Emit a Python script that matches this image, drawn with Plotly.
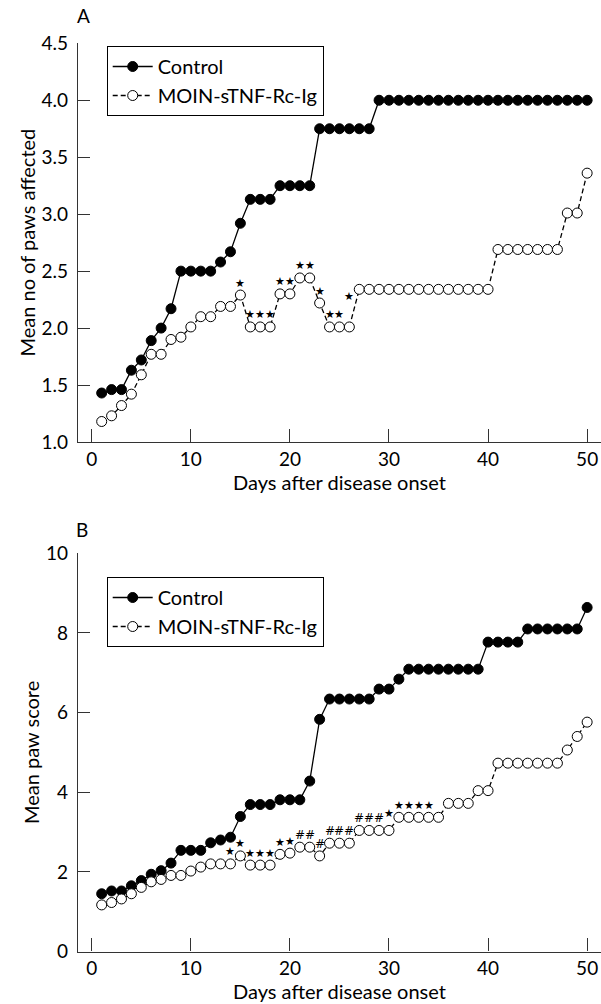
import plotly.graph_objects as go

# ---------------- data ----------------
days = list(range(1, 51))

# Panel A: mean number of paws affected
ctrl_A = [1.43, 1.46, 1.46, 1.63, 1.72, 1.89, 2.00, 2.17, 2.50, 2.50,
          2.50, 2.50, 2.58, 2.67, 2.92, 3.13, 3.13, 3.13, 3.25, 3.25,
          3.25, 3.25, 3.75, 3.75, 3.75, 3.75, 3.75, 3.75, 4.00, 4.00,
          4.00, 4.00, 4.00, 4.00, 4.00, 4.00, 4.00, 4.00, 4.00, 4.00,
          4.00, 4.00, 4.00, 4.00, 4.00, 4.00, 4.00, 4.00, 4.00, 4.00]
trt_A = [1.18, 1.23, 1.32, 1.42, 1.59, 1.77, 1.77, 1.90, 1.92, 2.01,
         2.10, 2.10, 2.19, 2.19, 2.29, 2.01, 2.01, 2.01, 2.30, 2.30,
         2.44, 2.44, 2.22, 2.01, 2.01, 2.01, 2.34, 2.34, 2.34, 2.34,
         2.34, 2.34, 2.34, 2.34, 2.34, 2.34, 2.34, 2.34, 2.34, 2.34,
         2.69, 2.69, 2.69, 2.69, 2.69, 2.69, 2.69, 3.01, 3.01, 3.36]

# Panel B: mean paw score
ctrl_B = [1.45, 1.52, 1.52, 1.65, 1.78, 1.94, 2.03, 2.22, 2.54, 2.54,
          2.54, 2.73, 2.80, 2.87, 3.39, 3.69, 3.69, 3.69, 3.81, 3.81,
          3.81, 4.28, 5.83, 6.34, 6.34, 6.34, 6.34, 6.34, 6.59, 6.59,
          6.84, 7.09, 7.09, 7.09, 7.09, 7.09, 7.09, 7.09, 7.09, 7.77,
          7.77, 7.77, 7.77, 8.10, 8.10, 8.10, 8.10, 8.10, 8.10, 8.64]
trt_B = [1.17, 1.23, 1.32, 1.45, 1.61, 1.75, 1.81, 1.91, 1.91, 2.02,
         2.12, 2.20, 2.20, 2.20, 2.40, 2.17, 2.17, 2.17, 2.44, 2.47,
         2.62, 2.62, 2.40, 2.72, 2.72, 2.72, 3.04, 3.04, 3.04, 3.04,
         3.37, 3.37, 3.37, 3.37, 3.37, 3.72, 3.72, 3.72, 4.04, 4.04,
         4.73, 4.73, 4.73, 4.73, 4.73, 4.73, 4.73, 5.06, 5.40, 5.76]

# significance markers (day, symbol) attached to the treated series
sig_A_days = [15, 16, 17, 18, 19, 20, 21, 22, 23, 24, 25, 26]
sig_A_syms = ["★"] * 12
sig_B_days = [14, 15, 16, 17, 18, 19, 20, 21, 22, 23, 24, 25, 26,
              27, 28, 29, 30, 31, 32, 33, 34]
sig_B_syms = ["★", "★", "★", "★", "★", "★", "★", "#", "#", "#", "#", "#", "#",
              "#", "#", "#", "★", "★", "★", "★", "★"]

x_ticks = [0, 10, 20, 30, 40, 50]
yA_ticks = [1.0, 1.5, 2.0, 2.5, 3.0, 3.5, 4.0, 4.5]
yB_ticks = [0, 2, 4, 6, 8, 10]

series_names = ["Control", "MOIN-sTNF-Rc-Ig"]
x_title = "Days after disease onset"
yA_title = "Mean no of paws affected"
yB_title = "Mean paw score"

# ---------------- figure ----------------
FONT = "Lato"
W, H = 601, 1004
fig = go.Figure()


def add_panel(ctrl, trt, xa, ya, legend):
    fig.add_trace(go.Scatter(
        x=days, y=ctrl, name=series_names[0], mode="lines+markers",
        xaxis=xa, yaxis=ya, legend=legend,
        line=dict(color="black", width=1.3),
        marker=dict(symbol="circle", size=10, color="black",
                    line=dict(color="black", width=1))))
    fig.add_trace(go.Scatter(
        x=days, y=trt, name=series_names[1], mode="lines+markers",
        xaxis=xa, yaxis=ya, legend=legend,
        line=dict(color="black", width=1.3, dash="5px,3px"),
        marker=dict(symbol="circle", size=10, color="white",
                    line=dict(color="black", width=1))))


add_panel(ctrl_A, trt_A, "x", "y", "legend")
add_panel(ctrl_B, trt_B, "x2", "y2", "legend2")

annotations = []


def add_sig(sdays, syms, series, xref, yref):
    for d, s in zip(sdays, syms):
        v = series[d - 1]
        shift = 12
        if xref == "x" and d == 26:
            shift = 30
        if xref == "x2" and d == 30:
            shift = 17
        annotations.append(dict(
            x=d, y=v, xref=xref, yref=yref, text=s, showarrow=False,
            yshift=shift, xanchor="center", yanchor="middle",
            font=dict(family="DejaVu Sans", size=11 if s == "★" else 12,
                      color="black")))


add_sig(sig_A_days, sig_A_syms, trt_A, "x", "y")
add_sig(sig_B_days, sig_B_syms, trt_B, "x2", "y2")

annotations.append(dict(x=84 / W, y=1 - 16 / H, xref="paper", yref="paper",
                        text="A", showarrow=False, xanchor="center",
                        yanchor="middle",
                        font=dict(family=FONT, size=19, color="black")))
annotations.append(dict(x=82 / W, y=1 - 529 / H, xref="paper", yref="paper",
                        text="B", showarrow=False, xanchor="center",
                        yanchor="middle",
                        font=dict(family=FONT, size=19, color="black")))

axis_common = dict(showline=True, linecolor="#333", linewidth=1.3,
                   ticks="inside", tickcolor="#333", tickwidth=1.3,
                   showgrid=False, zeroline=False, automargin=False,
                   tickfont=dict(family=FONT, size=19, color="black"))

xdom = [78 / W, 1.0]
fig.update_layout(
    template="none",
    width=W, height=H,
    margin=dict(l=0, r=0, t=0, b=0),
    paper_bgcolor="white", plot_bgcolor="white",
    showlegend=True,
    font=dict(family=FONT, color="black"),
    xaxis=dict(domain=xdom, anchor="y", range=[-1.39, 51.4],
               tickvals=x_ticks, ticklen=13,
               title=dict(text=x_title, standoff=2,
                          font=dict(family=FONT, size=20)),
               **axis_common),
    yaxis=dict(domain=[1 - 442 / H, 1 - 43.3 / H], anchor="x",
               range=[1.0, 4.5], tickvals=yA_ticks, tickformat=".1f",
               ticklen=12, ticklabelstandoff=5,
               title=dict(text=yA_title, standoff=0,
                          font=dict(family=FONT, size=20)),
               **axis_common),
    xaxis2=dict(domain=xdom, anchor="y2", range=[-1.39, 51.4],
                tickvals=x_ticks, ticklen=13,
                title=dict(text=x_title, standoff=5,
                           font=dict(family=FONT, size=20)),
                **axis_common),
    yaxis2=dict(domain=[1 - 951.5 / H, 1 - 553.3 / H], anchor="x2",
                range=[0, 10], tickvals=yB_ticks,
                ticklen=12, ticklabelstandoff=5,
                title=dict(text=yB_title, standoff=0,
                           font=dict(family=FONT, size=20)),
                **axis_common),
    legend=dict(x=106.7 / W, y=1 - 46 / H, xanchor="left", yanchor="top",
                bordercolor="black", borderwidth=1, bgcolor="white",
                font=dict(family=FONT, size=20, color="black"),
                tracegroupgap=0, itemwidth=40),
    legend2=dict(x=106.7 / W, y=1 - 577 / H, xanchor="left", yanchor="top",
                 bordercolor="black", borderwidth=1, bgcolor="white",
                 font=dict(family=FONT, size=20, color="black"),
                 tracegroupgap=0, itemwidth=40),
    annotations=annotations,
)

fig.write_html("out.html")
